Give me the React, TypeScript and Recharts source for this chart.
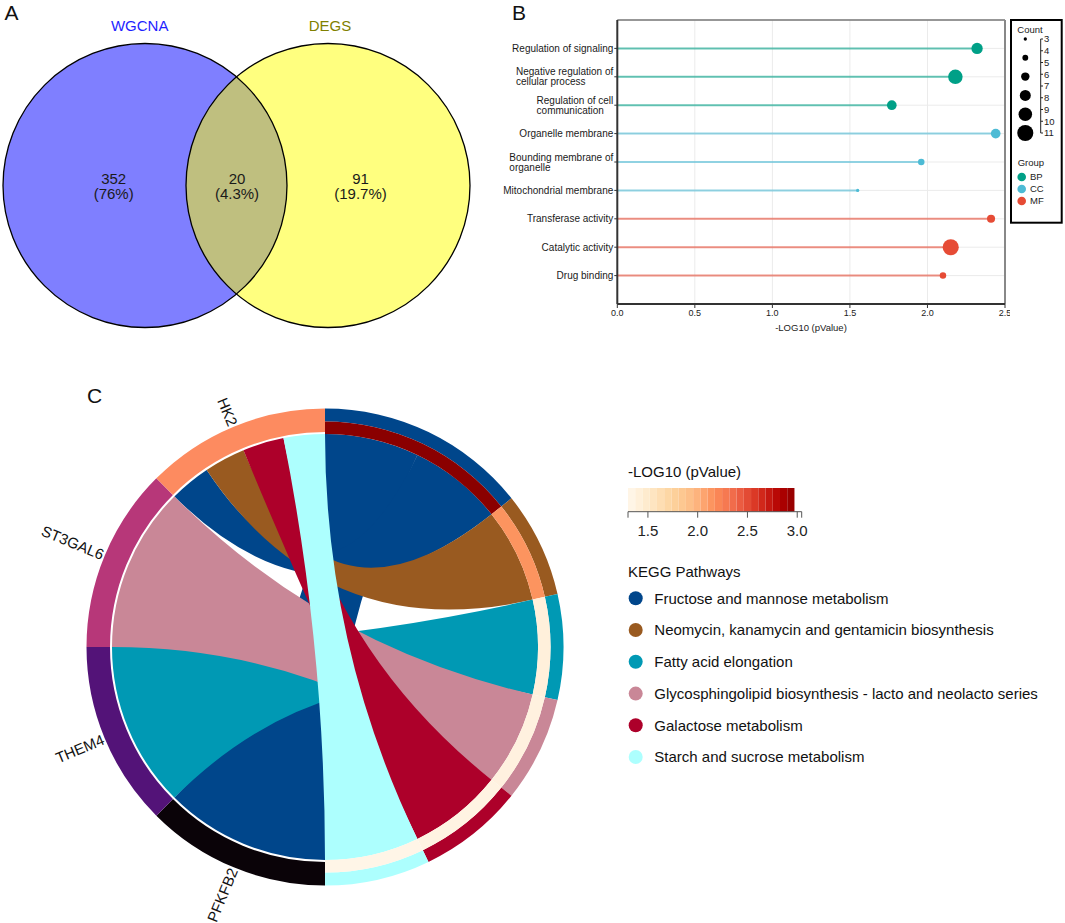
import React from 'react';
import {
  ScatterChart,
  Scatter,
  XAxis,
  YAxis,
  CartesianGrid,
  ReferenceLine,
  ReferenceDot,
  ReferenceArea,
  PieChart,
  Pie,
  Cell,
  Customized,
} from 'recharts';

const FONT = '"Liberation Sans", Arial, Helvetica, sans-serif';

// ---------- A: Venn ----------
const vennNames = ['WGCNA', 'DEGS'];
const vennCounts = [352, 20, 91];
const vennPercents = ['(76%)', '(4.3%)', '(19.7%)'];

// ---------- B: GO enrichment ----------
const goTerms = [
  'Regulation of signaling',
  'Negative regulation of\ncellular process',
  'Regulation of cell\ncommunication',
  'Organelle membrane',
  'Bounding membrane of\norganelle',
  'Mitochondrial membrane',
  'Transferase activity',
  'Catalytic activity',
  'Drug binding',
];
const goLogP = [2.32, 2.18, 1.77, 2.44, 1.96, 1.55, 2.41, 2.15, 2.1];
const goCount = [8, 10, 7, 7, 5, 3, 6, 11, 5];
const goGroup = ['BP', 'BP', 'BP', 'CC', 'CC', 'CC', 'MF', 'MF', 'MF'];
const groupNames = ['BP', 'CC', 'MF'];
const logpTicks = [0, 0.5, 1, 1.5, 2, 2.5];
const countTicks = [3, 4, 5, 6, 7, 8, 9, 10, 11];
const countLegendSizes = [3, 4.6, 6.2, 7.8, 9.4, 11];

// ---------- C: KEGG chord ----------
const genes = ['PFKFB2', 'THEM4', 'ST3GAL6', 'HK2'];
const pathways = [
  'Fructose and mannose metabolism',
  'Neomycin, kanamycin and gentamicin biosynthesis',
  'Fatty acid elongation',
  'Glycosphingolipid biosynthesis - lacto and neolacto series',
  'Galactose metabolism',
  'Starch and sucrose metabolism',
];
const pathwayLogP = [3.0, 2.14, 1.4, 1.38, 1.36, 1.33];
const linkGene = ['PFKFB2', 'HK2', 'HK2', 'THEM4', 'ST3GAL6', 'HK2', 'HK2'];
const linkPathway = [
  'Fructose and mannose metabolism',
  'Fructose and mannose metabolism',
  'Neomycin, kanamycin and gentamicin biosynthesis',
  'Fatty acid elongation',
  'Glycosphingolipid biosynthesis - lacto and neolacto series',
  'Galactose metabolism',
  'Starch and sucrose metabolism',
];
const colorbarTicks = [1.5, 2.0, 2.5, 3.0];
const CB_MIN = 1.3;
const CB_MAX = 3.045;

// ---------- styles ----------
const groupColors: Record<string, string> = { BP: '#00A087', CC: '#4DBBD5', MF: '#E64B35' };
const geneColors = ['#0A0308', '#531378', '#B73779', '#FD8B60'];
const pathwayColors = ['#00468B', '#995A20', '#0099B4', '#C98797', '#AD002A', '#ADFFFE'];
const ORRD = ['#fff7ec', '#fee8c8', '#fdd49e', '#fdbb84', '#fc8d59', '#ef6548', '#d7301f', '#b30000', '#7f0000'];

function hexRgb(h: string) {
  return [1, 3, 5].map((i) => parseInt(h.slice(i, i + 2), 16));
}
function orRd(v: number) {
  const t = Math.max(0, Math.min(1, (v - CB_MIN) / (CB_MAX - CB_MIN)));
  const p = t * (ORRD.length - 1);
  const i = Math.min(Math.floor(p), ORRD.length - 2);
  const f = p - i;
  const a = hexRgb(ORRD[i]);
  const b = hexRgb(ORRD[i + 1]);
  const c = a.map((x, k) => Math.round(x + (b[k] - x) * f));
  return `rgb(${c[0]},${c[1]},${c[2]})`;
}

const dotRadius = (count: number) => 1.65 + (count - 3) * 0.8;

let measureCtx: CanvasRenderingContext2D | null = null;
function textWidth(s: string, size: number) {
  if (!measureCtx) measureCtx = document.createElement('canvas').getContext('2d');
  if (!measureCtx) return s.length * size * 0.5;
  measureCtx.font = `${size}px "Liberation Sans", Arial`;
  return measureCtx.measureText(s).width;
}

// ---------- A ----------
const VENN_R = 142;
const VENN_CY = 185.5;
const vennCenterX = [145, 328];
const vennRegionX = [113.7, 237, 360.5];

function VennText(props: any) {
  const { cx, cy, payload } = props;
  return (
    <g fontFamily={FONT} fontSize={15} fill="#1a1a1a" textAnchor="middle">
      <text x={cx} y={cy - 1.5}>{payload.count}</text>
      <text x={cx} y={cy + 13.5}>{payload.pct}</text>
    </g>
  );
}

function VennChart() {
  const labels = vennCounts.map((c, i) => ({ x: vennRegionX[i], y: VENN_CY, count: c, pct: vennPercents[i] }));
  const fills = ['rgba(0,0,255,0.5)', 'rgba(255,255,0,0.5)'];
  return (
    <ScatterChart width={485} height={340} margin={{ top: 0, right: 0, bottom: 0, left: 0 }}>
      <XAxis type="number" dataKey="x" domain={[0, 485]} hide />
      <YAxis type="number" dataKey="y" domain={[0, 340]} reversed hide />
      {vennNames.map((n, i) => (
        <ReferenceDot key={n + 'f'} x={vennCenterX[i]} y={VENN_CY} r={VENN_R} fill={fills[i]} stroke="none" />
      ))}
      {vennNames.map((n, i) => (
        <ReferenceDot key={n + 's'} x={vennCenterX[i]} y={VENN_CY} r={VENN_R} fill="none" stroke="#000" strokeWidth={1.3} />
      ))}
      <Scatter data={labels} shape={VennText} isAnimationActive={false} />
    </ScatterChart>
  );
}

// ---------- B ----------
function TermTick(props: any) {
  const { x, y, payload } = props;
  const lines = goTerms[payload.value - 1].split('\n');
  const w = Math.max(...lines.map((l) => textWidth(l, 10)));
  const x0 = x - w;
  return (
    <text x={x0} y={y} fontSize={10} fill="#1a1a1a" fontFamily={FONT}>
      {lines.map((l, i) => (
        <tspan key={i} x={x0} y={y + 3.5 + (i - (lines.length - 1) / 2) * 10}>
          {l}
        </tspan>
      ))}
    </text>
  );
}

function GoDot(props: any) {
  const { cx, cy, payload } = props;
  return <circle cx={cx} cy={cy} r={dotRadius(payload.count)} fill={groupColors[payload.group]} />;
}

function GoChart() {
  const rows = goTerms.map((t, i) => ({ x: goLogP[i], y: i + 1, count: goCount[i], group: goGroup[i] }));
  return (
    <ScatterChart width={510} height={345} margin={{ top: 20, right: 5, bottom: 11, left: 0 }}>
      <CartesianGrid stroke="#ebebeb" strokeWidth={1} />
      <XAxis
        type="number"
        dataKey="x"
        domain={[0, 2.5]}
        ticks={logpTicks}
        interval={0}
        tickFormatter={(v: number) => v.toFixed(1)}
        height={30}
        tickSize={4}
        tickMargin={2}
        axisLine={{ stroke: '#333', strokeWidth: 2 }}
        tickLine={{ stroke: '#333' }}
        tick={{ fontSize: 9, fill: '#222', fontFamily: FONT }}
        allowDataOverflow
      />
      <YAxis
        type="number"
        dataKey="y"
        domain={[0, 10]}
        reversed
        ticks={[1, 2, 3, 4, 5, 6, 7, 8, 9]}
        interval={0}
        width={117.3}
        tickSize={3}
        tickMargin={1}
        axisLine={{ stroke: '#333', strokeWidth: 2 }}
        tickLine={{ stroke: '#333' }}
        tick={(p: any) => <TermTick {...p} />}
      />
      <ReferenceLine y={0} stroke="#777" strokeWidth={1.5} />
      <ReferenceLine x={2.5} stroke="#888" strokeWidth={2} />
      {rows.map((r) => (
        <ReferenceLine
          key={r.y}
          segment={[
            { x: 0, y: r.y },
            { x: r.x, y: r.y },
          ]}
          stroke={groupColors[r.group]}
          strokeOpacity={0.6}
          strokeWidth={2}
        />
      ))}
      <Scatter data={rows} shape={GoDot} isAnimationActive={false} />
    </ScatterChart>
  );
}

// ---------- C ----------
const CX = 325;
const CY = 307;
const R_LINK = 213;

const geneSpan = 180 / genes.length;
const linkUnit = 180 / linkGene.length;
const pathwayCounts = pathways.map((p) => linkPathway.filter((q) => q === p).length);
const pathwayStart = pathwayCounts.map((_, j) => pathwayCounts.slice(0, j).reduce((a, b) => a + b, 0) * linkUnit);

const linkGeom = linkGene.map((g, k) => {
  const gi = genes.indexOf(g);
  const pj = pathways.indexOf(linkPathway[k]);
  const geneLinks = linkGene
    .map((_, m) => m)
    .filter((m) => linkGene[m] === g)
    .sort((a, b) => pathways.indexOf(linkPathway[a]) - pathways.indexOf(linkPathway[b]));
  const w = geneSpan / geneLinks.length;
  const g0 = 180 + gi * geneSpan + geneLinks.indexOf(k) * w;
  const pathLinks = linkGene
    .map((_, m) => m)
    .filter((m) => linkPathway[m] === linkPathway[k])
    .sort((a, b) => genes.indexOf(linkGene[a]) - genes.indexOf(linkGene[b]));
  const p0 = pathwayStart[pj] + pathLinks.indexOf(k) * linkUnit;
  return { p: pj, s0: p0, s1: p0 + linkUnit, t0: g0, t1: g0 + w };
});

function pt(a: number, r: number) {
  const t = (a * Math.PI) / 180;
  return `${(CX + r * Math.sin(t)).toFixed(2)} ${(CY - r * Math.cos(t)).toFixed(2)}`;
}
function arcTo(a0: number, a1: number, r: number) {
  return `A ${r} ${r} 0 ${a1 - a0 > 180 ? 1 : 0} 1 ${pt(a1, r)}`;
}
function ribbonPath(l: { s0: number; s1: number; t0: number; t1: number }) {
  const r = R_LINK;
  return `M ${pt(l.s0, r)} ${arcTo(l.s0, l.s1, r)} Q ${CX} ${CY} ${pt(l.t0, r)} ${arcTo(l.t0, l.t1, r)} Q ${CX} ${CY} ${pt(l.s0, r)} Z`;
}

function Ribbons() {
  return (
    <g>
      {linkGeom.map((l, i) => (
        <path key={i} d={ribbonPath(l)} fill={pathwayColors[l.p]} />
      ))}
    </g>
  );
}

function geneLabel(props: any) {
  const { cx, cy, midAngle, index } = props;
  const r = 240;
  const rad = (-midAngle * Math.PI) / 180;
  const x = cx + r * Math.cos(rad);
  const y = cy + r * Math.sin(rad);
  const rot = (Math.atan2(cy - y, cx - x) * 180) / Math.PI;
  return (
    <text
      x={x}
      y={y}
      transform={`rotate(${rot} ${x} ${y})`}
      textAnchor="end"
      dominantBaseline="central"
      fontSize={15}
      fill="#111"
      fontFamily={FONT}
    >
      {genes[index]}
    </text>
  );
}

function ChordChart() {
  const geneData = genes.map((g) => ({ name: g, value: 1 }));
  const pathwayData = pathways.map((p, j) => ({ name: p, value: pathwayCounts[j] }));
  return (
    <PieChart width={600} height={583} margin={{ top: 0, right: 0, bottom: 0, left: 0 }}>
      <Customized component={Ribbons} />
      <Pie
        data={geneData}
        dataKey="value"
        cx={CX}
        cy={CY}
        innerRadius={215}
        outerRadius={238.5}
        startAngle={-90}
        endAngle={-270}
        stroke="none"
        label={geneLabel}
        labelLine={false}
        isAnimationActive={false}
      >
        {genes.map((g, i) => (
          <Cell key={g} fill={geneColors[i]} />
        ))}
      </Pie>
      <Pie
        data={pathwayData}
        dataKey="value"
        cx={CX}
        cy={CY}
        innerRadius={225.5}
        outerRadius={238.5}
        startAngle={90}
        endAngle={-90}
        stroke="none"
        isAnimationActive={false}
      >
        {pathways.map((p, i) => (
          <Cell key={p} fill={pathwayColors[i]} />
        ))}
      </Pie>
      <Pie
        data={pathwayData}
        dataKey="value"
        cx={CX}
        cy={CY}
        innerRadius={213}
        outerRadius={225.5}
        startAngle={90}
        endAngle={-90}
        stroke="none"
        isAnimationActive={false}
      >
        {pathways.map((p, i) => (
          <Cell key={p} fill={orRd(pathwayLogP[i])} />
        ))}
      </Pie>
    </PieChart>
  );
}

function ColorBar() {
  const n = 24;
  const step = (CB_MAX - CB_MIN) / n;
  const steps = Array.from({ length: n }, (_, i) => CB_MIN + i * step);
  return (
    <ScatterChart width={200} height={70} margin={{ top: 10, right: 16.3, bottom: 6.3, left: 10 }}>
      <XAxis
        type="number"
        dataKey="x"
        domain={[CB_MIN, CB_MAX]}
        ticks={[CB_MIN, ...colorbarTicks, CB_MAX]}
        interval={0}
        tickFormatter={(v: number) => (colorbarTicks.includes(v) ? v.toFixed(1) : '')}
        height={30}
        tickSize={6}
        tickMargin={8}
        axisLine={{ stroke: '#555' }}
        tickLine={{ stroke: '#555' }}
        tick={{ fontSize: 15, fill: '#222', fontFamily: FONT }}
        allowDataOverflow
      />
      <YAxis type="number" dataKey="y" domain={[0, 1]} hide />
      {steps.map((s) => (
        <ReferenceArea
          key={s}
          x1={s}
          x2={s + step}
          y1={0}
          y2={1}
          fill={orRd(s + step / 2)}
          fillOpacity={1}
          stroke="none"
        />
      ))}
      <Scatter data={[{ x: 2, y: 0.5 }]} shape={() => <g />} isAnimationActive={false} />
    </ScatterChart>
  );
}

function Overlay() {
  const legendY = [598.3, 630, 661.8, 693.6, 725.3, 757];
  return (
    <svg
      width={1065}
      height={923}
      style={{ position: 'absolute', left: 0, top: 0, pointerEvents: 'none' }}
      fontFamily={FONT}
    >
      <text x={4.5} y={20} fontSize={21} fill="#111">A</text>
      <text x={512} y={19.5} fontSize={21} fill="#111">B</text>
      <text x={87} y={403} fontSize={21} fill="#111">C</text>

      <text x={139.7} y={30.5} fontSize={15} fill="#1f1fff" textAnchor="middle">{vennNames[0]}</text>
      <text x={330} y={30.5} fontSize={15} fill="#808000" textAnchor="middle">{vennNames[1]}</text>

      <text x={811} y={331} fontSize={9.5} fill="#222" textAnchor="middle">-LOG10 (pValue)</text>

      {/* count / group legend */}
      <rect x={1011} y={20} width={50.7} height={202.7} fill="#fff" stroke="#000" strokeWidth={2} />
      <text x={1017.3} y={32.8} fontSize={9.5} fill="#222">Count</text>
      {countLegendSizes.map((c) => (
        <circle key={c} cx={1025.3} cy={39 + (c - 3) * 11.75} r={dotRadius(c)} fill="#000" />
      ))}
      <line x1={1040.7} y1={39} x2={1040.7} y2={133} stroke="#222" strokeWidth={1} />
      {countTicks.map((c) => (
        <g key={c}>
          <line x1={1040.7} y1={39 + (c - 3) * 11.75} x2={1043} y2={39 + (c - 3) * 11.75} stroke="#222" />
          <text x={1044} y={39 + (c - 3) * 11.75 + 3.4} fontSize={9.5} fill="#222">{c}</text>
        </g>
      ))}
      <text x={1017.7} y={165.5} fontSize={9.5} fill="#222">Group</text>
      {groupNames.map((g, i) => (
        <g key={g}>
          <circle cx={1021.7} cy={177 + i * 12} r={4.3} fill={groupColors[g]} />
          <text x={1030} y={177 + i * 12 + 3.4} fontSize={9.5} fill="#222">{g}</text>
        </g>
      ))}

      {/* KEGG legend */}
      <text x={628} y={477} fontSize={15} fill="#111">-LOG10 (pValue)</text>
      <text x={628} y={576.5} fontSize={15} fill="#111">KEGG Pathways</text>
      {pathways.map((p, i) => (
        <g key={p}>
          <circle cx={635.7} cy={legendY[i]} r={7} fill={pathwayColors[i]} />
          <text x={654.3} y={legendY[i] + 5.3} fontSize={15} fill="#111">{p}</text>
        </g>
      ))}
    </svg>
  );
}

export default function App() {
  return (
    <div
      style={{
        position: 'absolute',
        left: 0,
        top: 0,
        width: 1065,
        height: 923,
        background: '#fff',
        fontFamily: FONT,
        overflow: 'hidden',
      }}
    >
      <div style={{ position: 'absolute', left: 0, top: 0 }}>
        <VennChart />
      </div>
      <div style={{ position: 'absolute', left: 500, top: 0 }}>
        <GoChart />
      </div>
      <div style={{ position: 'absolute', left: 0, top: 340 }}>
        <ChordChart />
      </div>
      <div style={{ position: 'absolute', left: 618, top: 478 }}>
        <ColorBar />
      </div>
      <Overlay />
    </div>
  );
}
